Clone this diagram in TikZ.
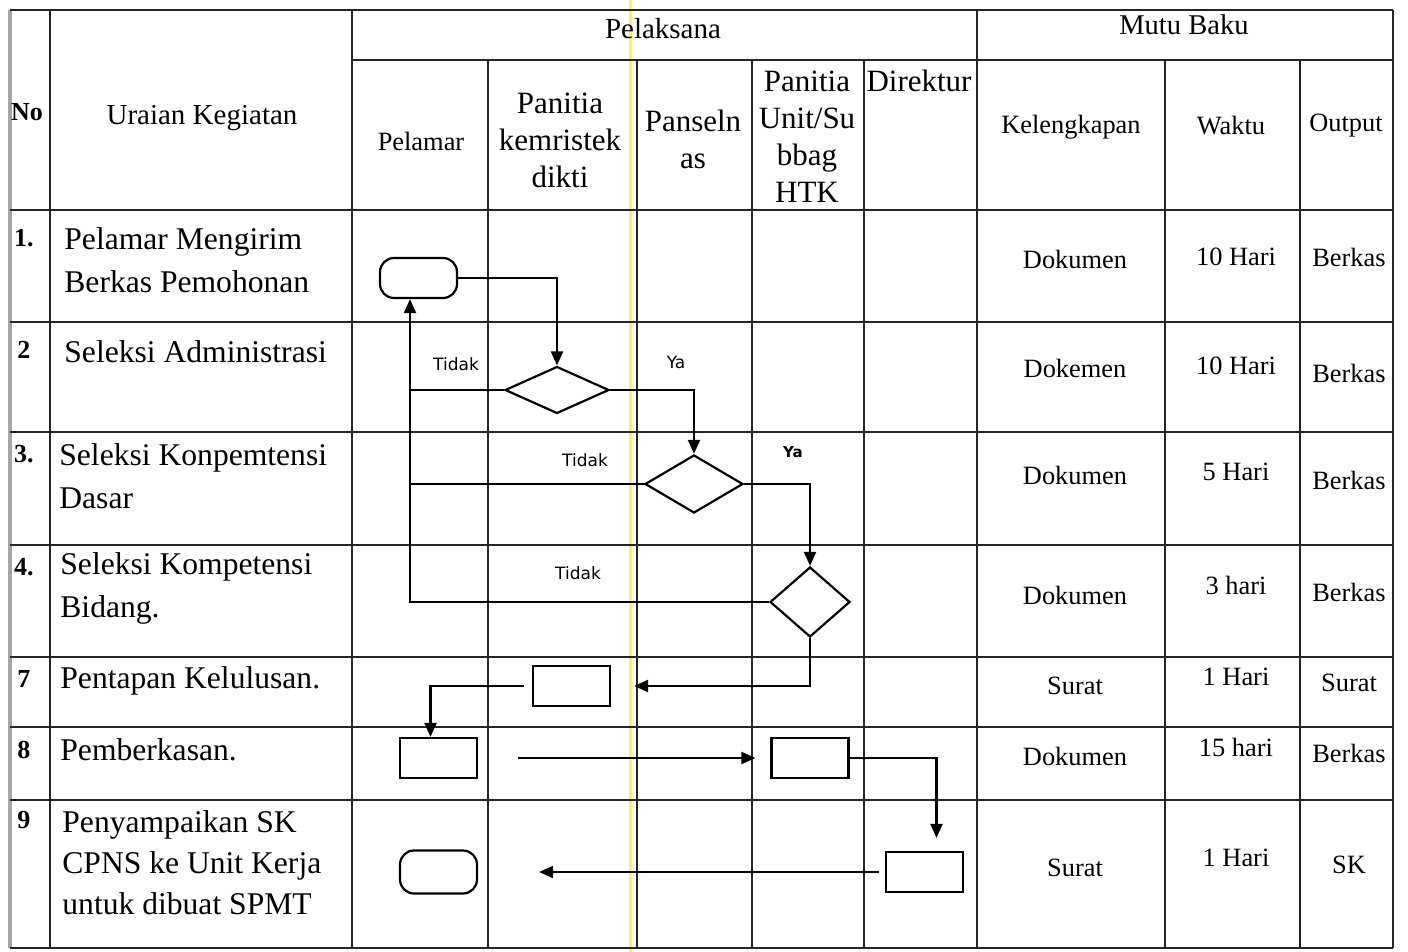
\documentclass[tikz,border=0pt]{standalone}
\usepackage{fontspec}
\setmainfont{Liberation Serif}
\newfontfamily\tagfont{DejaVu Sans}
\usetikzlibrary{arrows.meta, shapes.geometric}
\tikzset{>={Triangle[length=7pt, width=6pt]}}
\tikzset{
  garis/.style={line width=0.7pt, black!85},
  isi/.style={font=\fontsize{13.2}{16}\selectfont},
  judul/.style={font=\fontsize{15.5}{18.5}\selectfont, align=center},
  uraian/.style={anchor=west, inner sep=0, align=left, font=\fontsize{15.8}{21.5}\selectfont},
  nomor/.style={inner sep=0, font=\bfseries\fontsize{13}{15}\selectfont},
  terminal/.style={draw, rounded corners=7pt, minimum width=38.5pt, minimum height=20pt, line width=1.1pt},
  proses/.style={draw, minimum width=38.5pt, minimum height=20pt, line width=1.1pt},
  keputusan/.style={draw, diamond, inner sep=0, line width=1.1pt},
  alur/.style={line width=1.1pt},
  jawab/.style={font=\tagfont\fontsize{8.5}{10}\selectfont},
}

\begin{document}
\begin{tikzpicture}[x=0.5pt, y=-0.5pt]
    \useasboundingbox (0,0) rectangle (1408,952);
    % garis kuning hasil scan
    \draw[yellow!75, line width=1.5pt] (630,0) -- (630,952);

    % tabel
    \draw[gray!70, line width=1.6pt] (10,10) -- (10,948);
    \foreach \y in {10,210,322,432,545,657,727,800,948}
        \draw[garis] (10,\y) -- (1393,\y);
    \draw[garis] (352,60) -- (1393,60);
    \foreach \x in {50,352,977,1393}
        \draw[garis] (\x,10) -- (\x,948);
    \foreach \x in {488,637,752,864,1165,1300}
        \draw[garis] (\x,60) -- (\x,948);

    % kepala tabel
    \node[nomor] (hno) at (27,112) {No};
    \node[font=\fontsize{14.5}{17}\selectfont] (hur) at (202,118) {Uraian Kegiatan};
    \node[font=\fontsize{14.5}{17}\selectfont] (hpel) at (663,29) {Pelaksana};
    \node[font=\fontsize{14.3}{17}\selectfont] (hmutu) at (1184,25) {Mutu Baku};
    \node[isi] (hpelamar) at (421,141) {Pelamar};
    \node[judul] (hkem) at (560,140) {Panitia\\kemristek\\dikti};
    \node[judul] (hpans) at (693,139) {Panseln\\as};
    \node[judul] (hunit) at (807,137) {Panitia\\Unit/Su\\bbag\\HTK};
    \node[judul] (hdir) at (919,81) {Direktur};
    \node[isi] (hkel) at (1071,127) {Kelengkapan};
    \node[isi] (hwak) at (1231,126) {Waktu};
    \node[isi] (hout) at (1346,126) {Output};

    % nomor dan uraian kegiatan
    \foreach \y/\n [count=\i] in {238/1., 350/2, 454/3., 567/4., 679/7, 750/8, 820/9}
        \node[nomor] (no\i) at (24,\y) {\n};
    \node[uraian] (ur1) at (64,260) {Pelamar Mengirim\\Berkas Pemohonan};
    \node[uraian] (ur2) at (64,352) {Seleksi Administrasi};
    \node[uraian] (ur3) at (59,476) {Seleksi Konpemtensi\\Dasar};
    \node[uraian] (ur4) at (60,588) {Seleksi Kompetensi\\Bidang.};
    \node[uraian] (ur7) at (60,681) {Pentapan Kelulusan.};
    \node[uraian] (ur8) at (60,750) {Pemberkasan.};
    \node[uraian, font=\fontsize{15.8}{20.5}\selectfont] (ur9) at (62,863)
        {Penyampaikan SK\\CPNS ke Unit Kerja\\untuk dibuat SPMT};

    % mutu baku
    \foreach \yk/\k/\yw/\w/\yo/\o [count=\i] in {
        259/Dokumen/257/10 Hari/257/Berkas,
        368/Dokemen/366/10 Hari/373/Berkas,
        475/Dokumen/472/5 Hari/480/Berkas,
        595/Dokumen/585/3 hari/592/Berkas,
        686/Surat/677/1 Hari/683/Surat,
        756/Dokumen/747/15 hari/753/Berkas,
        868/Surat/858/1 Hari/865/SK}
    {
        \node[isi] (kel\i) at (1075,\yk) {\k};
        \node[isi] (wak\i) at (1236,\yw) {\w};
        \node[isi] (out\i) at (1349,\yo) {\o};
    }

    % bagan alur
    \node[terminal] (mulai) at (418.5,278) {};
    \node[keputusan, minimum width=52pt, minimum height=23.5pt] (cekadm) at (557,390) {};
    \node[keputusan, minimum width=49pt, minimum height=29pt] (cekskd) at (694,484) {};
    \node[keputusan, minimum width=40pt, minimum height=35pt] (cekskb) at (810,602) {};
    \node[proses] (tetap) at (571.5,686) {};
    \node[proses] (berkasA) at (438.5,758) {};
    \node[proses] (berkasB) at (810,758) {};
    \node[proses] (kirimsk) at (924.5,872) {};
    \node[terminal, minimum height=21.5pt] (selesai) at (438.5,872) {};
    \coordinate (balik) at (410,602);

    \draw[alur,->] (mulai.east) -| (cekadm.north);
    \draw[alur,->] (cekskb.west) -- (cekskb.west -| balik) -- (balik |- mulai.south);
    \draw[alur] (cekadm.west) -- (cekadm.west -| balik);
    \draw[alur] (cekskd.west) -- (cekskd.west -| balik);
    \draw[alur,->] (cekadm.east) -| (cekskd.north);
    \draw[alur,->] (cekskd.east) -| (cekskb.north);
    \draw[alur,->] (cekskb.south) |- ([xshift=11.5pt]tetap.east);
    \draw[alur,->] ([xshift=-4pt]tetap.west) -| ([xshift=-4pt]berkasA.north);
    \draw[alur,->] ([xshift=20pt]berkasA.east) -- ([xshift=-7.5pt]berkasB.west);
    \draw[alur,->] (berkasB.east) -| ([xshift=6pt, yshift=6.5pt]kirimsk.north);
    \draw[alur,->] ([xshift=-3pt]kirimsk.west) -- ([xshift=30.5pt]selesai.east);

    \node[jawab] (tidak1) at (456,364) {Tidak};
    \node[jawab] (ya1) at (676,362) {Ya};
    \node[jawab] (tidak2) at (585,460) {Tidak};
    \node[jawab, font=\tagfont\bfseries\fontsize{7.5}{9}\selectfont] (ya2) at (793,452) {Ya};
    \node[jawab] (tidak3) at (578,573) {Tidak};
\end{tikzpicture}
\end{document}
